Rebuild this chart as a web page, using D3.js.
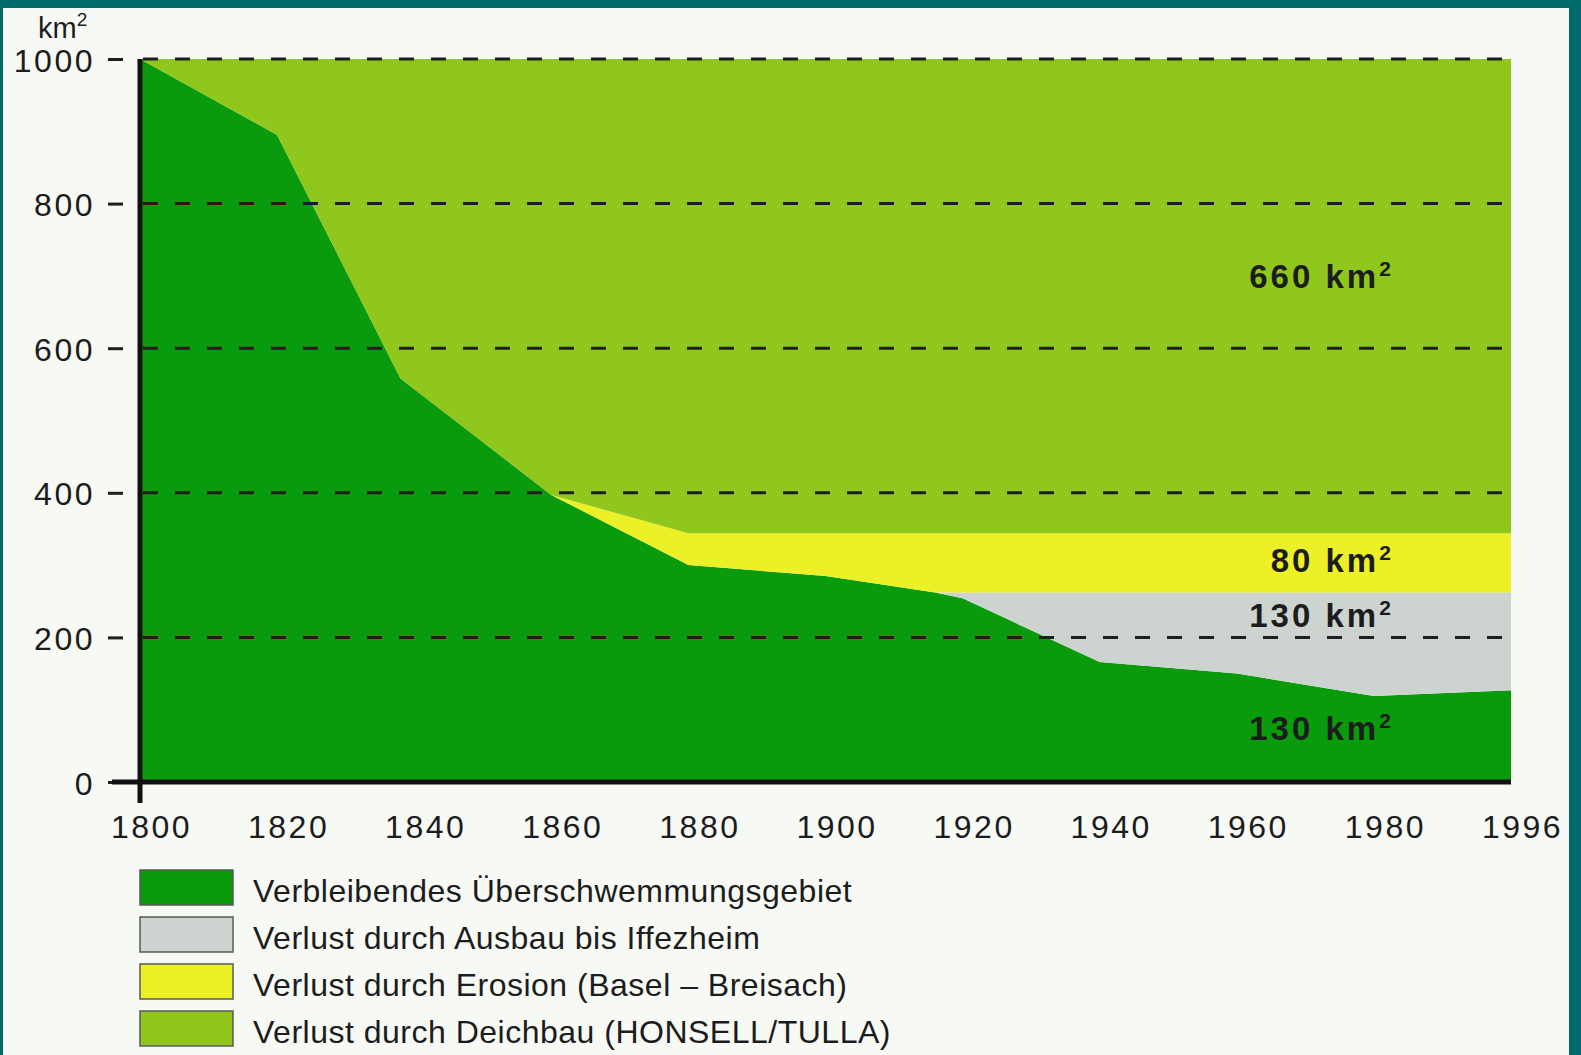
<!DOCTYPE html>
<html>
<head>
<meta charset="utf-8">
<script src="https://cdn.jsdelivr.net/npm/d3@7"></script>
<style>
	html, body { margin: 0; padding: 0; background: #006b6c; }
	svg { display: block; }
	text { font-family: "Liberation Sans", Arial, sans-serif; fill: #1c1c1c; }
</style>
</head>
<body>
<svg id="chart" width="1581" height="1055"></svg>
<script>
// Rhein-Überschwemmungsgebiet 1800-1996, km2
const years = [1800, 1820, 1838, 1860, 1880, 1900, 1916, 1920, 1940, 1960, 1980, 1996];
const verbleibend = [1000, 895, 558, 397, 300, 285, 262, 254, 166, 150, 119, 127];
const ausbau = [0, 0, 0, 0, 0, 0, 0, 8, 96, 112, 143, 135];
const erosion = [0, 0, 0, 0, 44, 59, 82, 82, 82, 82, 82, 82];
const deichbau = [0, 105, 442, 603, 656, 656, 656, 656, 656, 656, 656, 656];

const seriesKeys = ["verbleibend", "ausbau", "erosion", "deichbau"];
const seriesColors = ["#0a9b0d", "#cdd4d0", "#ecf026", "#8fc71c"];
const legendLabels = [
	"Verbleibendes Überschwemmungsgebiet",
	"Verlust durch Ausbau bis Iffezheim",
	"Verlust durch Erosion (Basel – Breisach)",
	"Verlust durch Deichbau (HONSELL/TULLA)"
];

const xTicks = [1800, 1820, 1840, 1860, 1880, 1900, 1920, 1940, 1960, 1980, 1996];
const yTicks = [0, 200, 400, 600, 800, 1000];

// labels on the right side of the chart (value = baseline height)
const areaLabels = ["660", "80", "130", "130"];
const areaLabelAt = [683, 291, 215, 58];

const svg = d3.select("#chart");

// paper of the scan
svg.append("rect")
	.attr("x", 3).attr("y", 8)
	.attr("width", 1566).attr("height", 1047)
	.attr("fill", "#f6f9f4");

// 1996 sits on the last tick, same spacing as the others
const x = d3.scaleLinear()
	.domain([1800, 1980, 1996])
	.range([140, 140 + 9 * 137.1, 1511]);

const y = d3.scaleLinear()
	.domain([0, 1000])
	.range([782, 59]);

const rows = years.map((yr, i) => ({
	year: yr,
	verbleibend: verbleibend[i],
	ausbau: ausbau[i],
	erosion: erosion[i],
	deichbau: deichbau[i]
}));

const stacked = d3.stack().keys(seriesKeys)(rows);

const area = d3.area()
	.x(d => x(d.data.year))
	.y0(d => y(d[0]))
	.y1(d => y(d[1]));

svg.append("g")
	.selectAll("path")
	.data(stacked)
	.enter()
	.append("path")
	.attr("d", area)
	.attr("fill", (d, i) => seriesColors[i]);

// dashed grid lines over the areas
svg.append("g")
	.selectAll("line")
	.data(yTicks.filter(v => v > 0))
	.enter()
	.append("line")
	.attr("x1", x(1800) + 3)
	.attr("x2", x(1996))
	.attr("y1", d => y(d))
	.attr("y2", d => y(d))
	.attr("stroke", "#1e1e1e")
	.attr("stroke-width", 3)
	.attr("stroke-dasharray", "15,17");

// y axis: short dashes left of the plot, labels right aligned
const yAxis = svg.append("g")
	.attr("transform", "translate(123,0)")
	.call(d3.axisLeft(y).tickValues(yTicks).tickSize(15).tickPadding(13).tickFormat(d3.format("d")));

yAxis.select(".domain").remove();
yAxis.selectAll(".tick line")
	.attr("stroke", "#1e1e1e")
	.attr("stroke-width", 3);
yAxis.selectAll(".tick text")
	.attr("dy", "0.38em")
	.style("font-size", "32px")
	.style("letter-spacing", "2.5px")
	.attr("fill", "#1c1c1c");

// x axis labels
const xAxis = svg.append("g")
	.attr("transform", "translate(0," + y(0) + ")")
	.call(d3.axisBottom(x).tickValues(xTicks).tickSize(0).tickFormat(d3.format("d")).tickPadding(37));

xAxis.select(".domain").remove();
xAxis.selectAll(".tick text")
	.attr("dx", 11)
	.attr("dy", "0.6em")
	.style("font-size", "32px")
	.style("letter-spacing", "2.5px")
	.attr("fill", "#1c1c1c");

// axis lines
svg.append("line")
	.attr("x1", 112).attr("x2", x(1996))
	.attr("y1", y(0)).attr("y2", y(0))
	.attr("stroke", "#111").attr("stroke-width", 5);

svg.append("line")
	.attr("x1", x(1800)).attr("x2", x(1800))
	.attr("y1", y(1000)).attr("y2", y(0) + 21)
	.attr("stroke", "#111").attr("stroke-width", 5);

// unit
const unit = svg.append("text")
	.attr("x", 38).attr("y", 38)
	.style("font-size", "29px")
	.attr("fill", "#333");
unit.append("tspan").text("km");
unit.append("tspan").attr("dy", -12).style("font-size", "19px").text("2");

// km2 labels inside the areas
svg.append("g")
	.selectAll("text")
	.data(areaLabels)
	.enter()
	.append("text")
	.attr("x", x(1980) + 20)
	.attr("y", (d, i) => y(areaLabelAt[i]))
	.attr("text-anchor", "end")
	.style("font-size", "33px")
	.style("font-weight", "bold")
	.style("letter-spacing", "3px")
	.each(function(d) {
		const t = d3.select(this);
		t.append("tspan").text(d + " km");
		t.append("tspan").attr("dy", -12).style("font-size", "21px").text("2");
	});

// legend
const legend = svg.append("g")
	.selectAll("g")
	.data(legendLabels)
	.enter()
	.append("g")
	.attr("transform", (d, i) => "translate(140," + (870 + i * 47) + ")");

legend.append("rect")
	.attr("width", 93).attr("height", 35)
	.attr("fill", (d, i) => seriesColors[i])
	.attr("stroke", "#5a5a5a")
	.attr("stroke-width", 1.5);

legend.append("text")
	.attr("x", 113).attr("y", 32)
	.style("font-size", "32px")
	.style("letter-spacing", "0.5px")
	.text(d => d);
</script>
</body>
</html>
